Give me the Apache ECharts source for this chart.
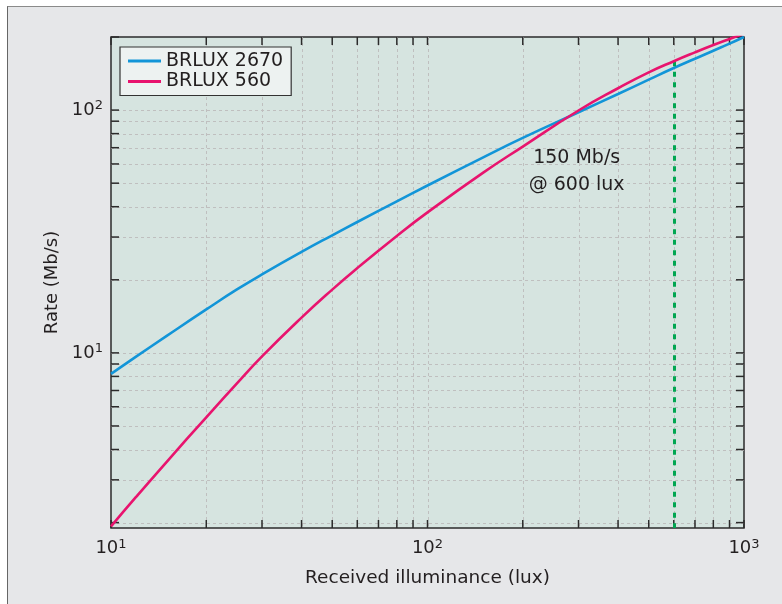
<!DOCTYPE html>
<html>
<head>
<meta charset="utf-8">
<script src="https://cdn.jsdelivr.net/npm/echarts@6/dist/echarts.min.js"></script>
<style>
html,body{margin:0;padding:0;background:#ffffff;}
#wrap{position:relative;width:782px;height:604px;overflow:hidden;background:#ffffff;}
#frame{position:absolute;left:7px;top:6px;width:800px;height:620px;background:#e6e7e9;border-left:1.5px solid #666;border-top:1.5px solid #8a8a8a;}
#chart{position:absolute;left:0;top:0;width:782px;height:604px;}
</style>
</head>
<body>
<div id="wrap"><div id="frame"></div><div id="chart"></div></div>
<script>
// ---- data ----
const illuminance = [10, 12, 15, 20, 25, 30, 40, 50, 60, 80, 100, 150, 200, 300, 400, 500, 600, 700, 800, 900, 1000];
const brlux2670 = [8.2, 9.65, 11.75, 15.1, 18.25, 21.05, 26.05, 30.5, 34.6, 42.1, 48.9, 63.9, 76.8, 98.0, 116.5, 133.5, 149, 162.7, 175.6, 187.8, 200];
const brlux560 = [1.93, 2.55, 3.56, 5.43, 7.49, 9.67, 13.97, 18.22, 22.35, 30.32, 37.9, 55.26, 70.77, 99.6, 123, 143, 159, 172.9, 185.3, 196.3, 206.3];
const seriesNames = ['BRLUX 2670', 'BRLUX 560'];
const xGridValues = [20, 30, 40, 50, 60, 70, 80, 90, 100, 200, 300, 400, 500, 600, 700, 800, 900];
const xTickValues = [10, 20, 30, 40, 50, 60, 70, 80, 90, 100, 200, 300, 400, 500, 600, 700, 800, 900, 1000];
const yGridValues = [2, 3, 4, 5, 6, 7, 8, 9, 10, 20, 30, 40, 50, 60, 70, 80, 90, 100];
const yTickValues = [2, 3, 4, 5, 6, 7, 8, 9, 10, 20, 30, 40, 50, 60, 70, 80, 90, 100, 200];
const markerLux = 600;
const markerTop = 159;
const annotationText = '150 Mb/s\n@ 600 lux';
const annotationAt = [296, 56];
const xRange = [10, 1000];
const yRange = [1.9, 200];

const FONT = 'DejaVu Sans';
const TXT = '#231f20';

function powLabel(v) {
  const e = Math.log10(v);
  if (Math.abs(e - Math.round(e)) > 1e-6) return '';
  return '{b|10}{s|' + Math.round(e) + '}';
}
const richLabel = {
  b: {fontSize: 18, fontFamily: FONT, color: TXT},
  s: {fontSize: 13, fontFamily: FONT, color: TXT, padding: [0, 0, 8, 0]}
};

const chart = echarts.init(document.getElementById('chart'), null, {renderer: 'canvas'});

function renderGrid(params, api) {
  const cs = params.coordSys;
  const left = cs.x, top = cs.y, right = cs.x + cs.width, bottom = cs.y + cs.height;
  const children = [];
  const gridStyle = {stroke: '#bfbfbf', lineWidth: 1, lineDash: [3, 3]};
  const tickStyle = {stroke: '#2b2b2b', lineWidth: 1.5};
  const TL = 8;
  xGridValues.forEach(function (v) {
    const x = Math.round(api.coord([v, yRange[0]])[0]) + 0.5;
    children.push({type: 'line', shape: {x1: x, y1: top, x2: x, y2: bottom}, style: gridStyle});
  });
  yGridValues.forEach(function (v) {
    const y = Math.round(api.coord([xRange[0], v])[1]) + 0.5;
    children.push({type: 'line', shape: {x1: left, y1: y, x2: right, y2: y}, style: gridStyle});
  });
  xTickValues.forEach(function (v) {
    const x = api.coord([v, yRange[0]])[0];
    children.push({type: 'line', shape: {x1: x, y1: bottom, x2: x, y2: bottom - TL}, style: tickStyle});
    children.push({type: 'line', shape: {x1: x, y1: top, x2: x, y2: top + TL}, style: tickStyle});
  });
  yTickValues.forEach(function (v) {
    const y = api.coord([xRange[0], v])[1];
    children.push({type: 'line', shape: {x1: left, y1: y, x2: left + TL, y2: y}, style: tickStyle});
    children.push({type: 'line', shape: {x1: right, y1: y, x2: right - TL, y2: y}, style: tickStyle});
  });
  return {type: 'group', children: children};
}

const option = {
  backgroundColor: 'transparent',
  animation: false,
  grid: {
    left: 111, top: 37, width: 633, height: 491,
    show: true, backgroundColor: '#d6e4e0', borderColor: '#2b2b2b', borderWidth: 1.5
  },
  legend: {
    data: seriesNames,
    orient: 'vertical',
    left: 120, top: 47,
    padding: [4, 8, 4, 8],
    icon: 'rect',
    itemWidth: 33, itemHeight: 3, itemGap: 0.5,
    backgroundColor: '#edf2f1',
    borderColor: '#333', borderWidth: 1.2, borderRadius: 0,
    textStyle: {fontSize: 19, fontFamily: FONT, color: TXT, lineHeight: 20, height: 20}
  },
  xAxis: {
    type: 'log', logBase: 10, min: xRange[0], max: xRange[1],
    name: 'Received illuminance (lux)', nameLocation: 'middle', nameGap: 41,
    nameTextStyle: {fontSize: 18.5, fontFamily: FONT, color: TXT},
    axisLine: {show: false}, axisTick: {show: false}, splitLine: {show: false},
    axisLabel: {margin: 10, formatter: powLabel, rich: richLabel}
  },
  yAxis: {
    type: 'log', logBase: 10, min: yRange[0], max: yRange[1],
    name: 'Rate (Mb/s)', nameLocation: 'middle', nameGap: 49,
    nameTextStyle: {fontSize: 18, fontFamily: FONT, color: TXT},
    axisLine: {show: false}, axisTick: {show: false}, splitLine: {show: false},
    axisLabel: {margin: 8, formatter: powLabel, rich: richLabel}
  },
  series: [
    {
      type: 'custom', name: 'grid', silent: true, z: 1,
      renderItem: renderGrid,
      data: [[100, 10]]
    },
    {
      type: 'line', name: seriesNames[0], z: 4,
      data: illuminance.map(function (x, i) { return [x, brlux2670[i]]; }),
      symbol: 'none', smooth: 0.5, clip: true,
      lineStyle: {color: '#1295d8', width: 2.6},
      itemStyle: {color: '#1295d8'},
      markPoint: {
        symbol: 'circle', symbolSize: 0, silent: true,
        data: [{coord: annotationAt, value: 0}],
        label: {show: true, position: 'inside', formatter: annotationText,
          fontSize: 19, lineHeight: 27, fontFamily: FONT, color: TXT}
      }
    },
    {
      type: 'line', name: seriesNames[1], z: 5,
      data: illuminance.map(function (x, i) { return [x, brlux560[i]]; }),
      symbol: 'none', smooth: 0.5, clip: true,
      lineStyle: {color: '#e8146e', width: 2.6},
      itemStyle: {color: '#e8146e'},
      markLine: {
        symbol: ['none', 'none'], silent: true, label: {show: false},
        lineStyle: {color: '#00a651', width: 3, type: [5, 5.5]},
        data: [[{coord: [markerLux, markerTop]}, {coord: [markerLux, yRange[0]]}]]
      }
    }
  ]
};
chart.setOption(option);
</script>
</body>
</html>
